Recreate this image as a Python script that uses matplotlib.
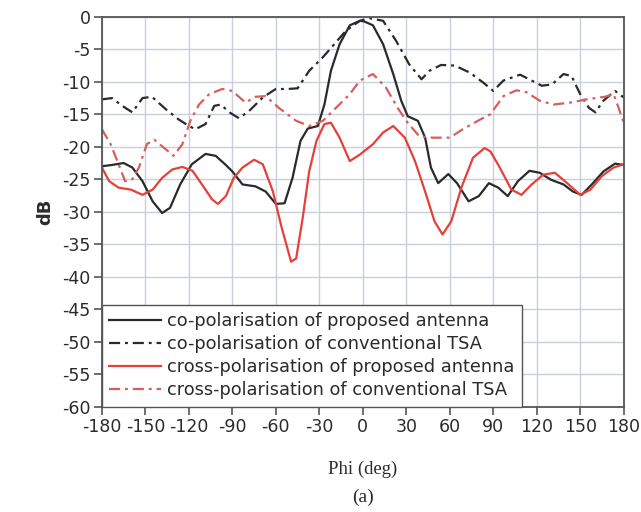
import matplotlib
matplotlib.use("Agg")
import matplotlib.pyplot as plt

plt.rcParams["axes.unicode_minus"] = False

# ── data ─────────────────────────────────────────────────────────────────────
phi_co_prop = [-180, -173, -165, -159, -152, -145, -138.5, -133, -126, -118, -108.5, -101.5,
               -95, -90, -83, -74, -67, -60, -54, -48.5, -43, -38, -31, -26.5, -22, -16,
               -9, -2, 1, 7, 14, 21, 26.5, 31, 38, 43, 47, 52, 59, 65, 73, 80, 87, 93.5,
               100, 107, 115, 122, 130, 138.5, 145, 151, 158, 166, 174, 180]
db_co_prop = [-23.0, -22.8, -22.5, -23.2, -25.3, -28.4, -30.2, -29.4, -25.8, -22.7, -21.1,
              -21.4, -22.7, -23.8, -25.8, -26.1, -26.9, -28.8, -28.7, -24.8, -19.1, -17.2,
              -16.8, -13.5, -8.3, -4.2, -1.3, -0.6, -0.7, -1.3, -4.2, -8.8, -12.9, -15.3,
              -16.0, -18.6, -23.2, -25.6, -24.2, -25.6, -28.4, -27.6, -25.6, -26.3, -27.6,
              -25.3, -23.7, -24.0, -25.1, -25.8, -26.9, -27.4, -25.8, -23.8, -22.6, -22.8]

phi_co_conv = [-180, -173, -166, -159, -152, -145.5, -136, -127, -120, -115.5, -108.5,
               -102.5, -98, -92, -85.5, -78.5, -69, -60, -52, -45, -37, -27.5, -18.5, -11.5,
               -2, 4.5, 14, 23, 32, 40.5, 46, 54, 63.5, 74, 83, 90, 97, 108.5, 116.5,
               123.5, 130.5, 138.5, 144, 150, 156, 160.5, 166, 174, 180]
db_co_conv = [-12.7, -12.5, -13.7, -14.7, -12.5, -12.3, -14.2, -15.8, -16.8, -17.3, -16.5,
              -13.7, -13.5, -14.7, -15.6, -14.5, -12.4, -11.1, -11.1, -11.0, -8.3, -6.2,
              -3.9, -2.1, -0.6, -0.2, -0.6, -3.7, -7.3, -9.6, -8.3, -7.4, -7.5, -8.6,
              -10.1, -11.4, -9.8, -8.9, -9.8, -10.6, -10.4, -8.8, -9.1, -11.9, -14.0,
              -14.7, -12.9, -11.4, -12.4]

phi_x_prop = [-180, -175, -168.5, -160, -152, -145, -138.5, -131.5, -124.5, -117.5, -111,
              -104, -100, -94.5, -89, -83, -75, -69, -62, -56.5, -49.5, -46, -41.5, -37,
              -32, -26.5, -22, -16, -9, -2, 7, 14, 21, 29, 36, 43, 49.5, 55, 61, 68, 76,
              84, 88, 94.5, 102.5, 109.5, 116.5, 124.5, 132.5, 141, 150, 157, 165, 173,
              180]
db_x_prop = [-23.2, -25.3, -26.3, -26.6, -27.4, -26.6, -24.8, -23.5, -23.1, -23.7, -25.8,
             -28.1, -28.8, -27.6, -24.8, -23.2, -22.0, -22.7, -26.9, -32.0, -37.7, -37.2,
             -31.0, -23.8, -19.1, -16.5, -16.3, -18.6, -22.2, -21.2, -19.6, -17.8, -16.8,
             -18.6, -22.2, -26.9, -31.5, -33.5, -31.5, -26.3, -21.7, -20.2, -20.7, -23.2,
             -26.6, -27.4, -25.8, -24.3, -24.0, -25.6, -27.4, -26.6, -24.5, -23.2, -22.7]

phi_x_conv = [-180, -174, -168.5, -164, -159, -154.5, -149, -144, -137, -130.5, -124.5,
              -119, -113, -106, -97, -90, -81, -74, -67, -58, -46, -37, -27.5, -18.5, -9,
              -2, 7, 16, 24, 31, 39, 48.5, 60, 69, 81, 88, 97, 106, 113, 122, 131.5, 143,
              154.5, 167, 173, 176.5, 180]
db_x_conv = [-17.3, -19.6, -22.7, -25.3, -25.0, -23.2, -19.6, -18.9, -20.2, -21.4, -19.6,
             -16.0, -13.5, -11.9, -11.1, -11.4, -13.2, -12.3, -12.2, -14.0, -16.0, -16.8,
             -16.0, -14.0, -11.9, -9.8, -8.8, -10.9, -14.0, -16.3, -18.4, -18.6, -18.6,
             -17.3, -15.8, -15.0, -12.2, -11.3, -11.6, -12.9, -13.5, -13.2, -12.7, -12.3,
             -11.9, -14.0, -16.3]

labels = ["co-polarisation of proposed antenna",
          "co-polarisation of conventional TSA",
          "cross-polarisation of proposed antenna",
          "cross-polarisation of conventional TSA"]

x_ticks = list(range(-180, 181, 30))
y_ticks = list(range(-60, 1, 5))

# ── styling ──────────────────────────────────────────────────────────────────
C_BLACK = "#2a2a2a"
C_RED = "#e5403a"
C_RED_DD = "#d4605c"
C_GRID = "#c9d0dc"
C_SPINE = "#555555"
C_TEXT = "#2b2b2b"
SANS = ["DejaVu Sans"]
SERIF = ["Liberation Serif", "DejaVu Serif"]
DASHDOT = (5, 2.2, 1.3, 2.2)

fig = plt.figure(figsize=(6.41, 5.12), dpi=100)
ax = fig.add_axes([0.159, 0.206, 0.814, 0.761])

ax.plot(phi_co_prop, db_co_prop, color=C_BLACK, lw=1.6, label=labels[0])
ax.plot(phi_co_conv, db_co_conv, color=C_BLACK, lw=1.6, dashes=DASHDOT, label=labels[1])
ax.plot(phi_x_prop, db_x_prop, color=C_RED, lw=1.6, label=labels[2])
ax.plot(phi_x_conv, db_x_conv, color=C_RED_DD, lw=1.6, dashes=DASHDOT, label=labels[3])

ax.set_xlim(-180, 180)
ax.set_ylim(-60, 0)
ax.set_xticks(x_ticks)
ax.set_yticks(y_ticks)
ax.grid(True, color=C_GRID, lw=1.0)
ax.set_axisbelow(True)
for s in ax.spines.values():
    s.set_color(C_SPINE)
    s.set_linewidth(1.3)
ax.tick_params(direction="out", length=6, width=1.2, color=C_SPINE,
               labelsize=12.5, labelcolor=C_TEXT, pad=2)
for t in ax.get_xticklabels() + ax.get_yticklabels():
    t.set_family(SANS)

ax.set_ylabel("dB", fontsize=13, fontweight="bold", family=SANS, color=C_TEXT,
              labelpad=6)
ax.set_xlabel("Phi (deg)", fontsize=13.5, family=SERIF, color=C_TEXT, labelpad=18)
fig.text(0.566, 0.028, "(a)", fontsize=14, family=SERIF, color=C_TEXT,
         ha="center", va="center")

leg = ax.legend(loc="lower left", bbox_to_anchor=(0.0, 0.0),
                prop={"family": SANS, "size": 12.8}, frameon=True, fancybox=False,
                borderaxespad=0, handlelength=2.9, handletextpad=0.35,
                labelspacing=0.28, borderpad=0.42)
leg.get_frame().set_edgecolor(C_SPINE)
leg.get_frame().set_linewidth(1.0)
leg.get_frame().set_alpha(1.0)
for t in leg.get_texts():
    t.set_color(C_TEXT)

fig.savefig("out.png", dpi=100, facecolor="white")
